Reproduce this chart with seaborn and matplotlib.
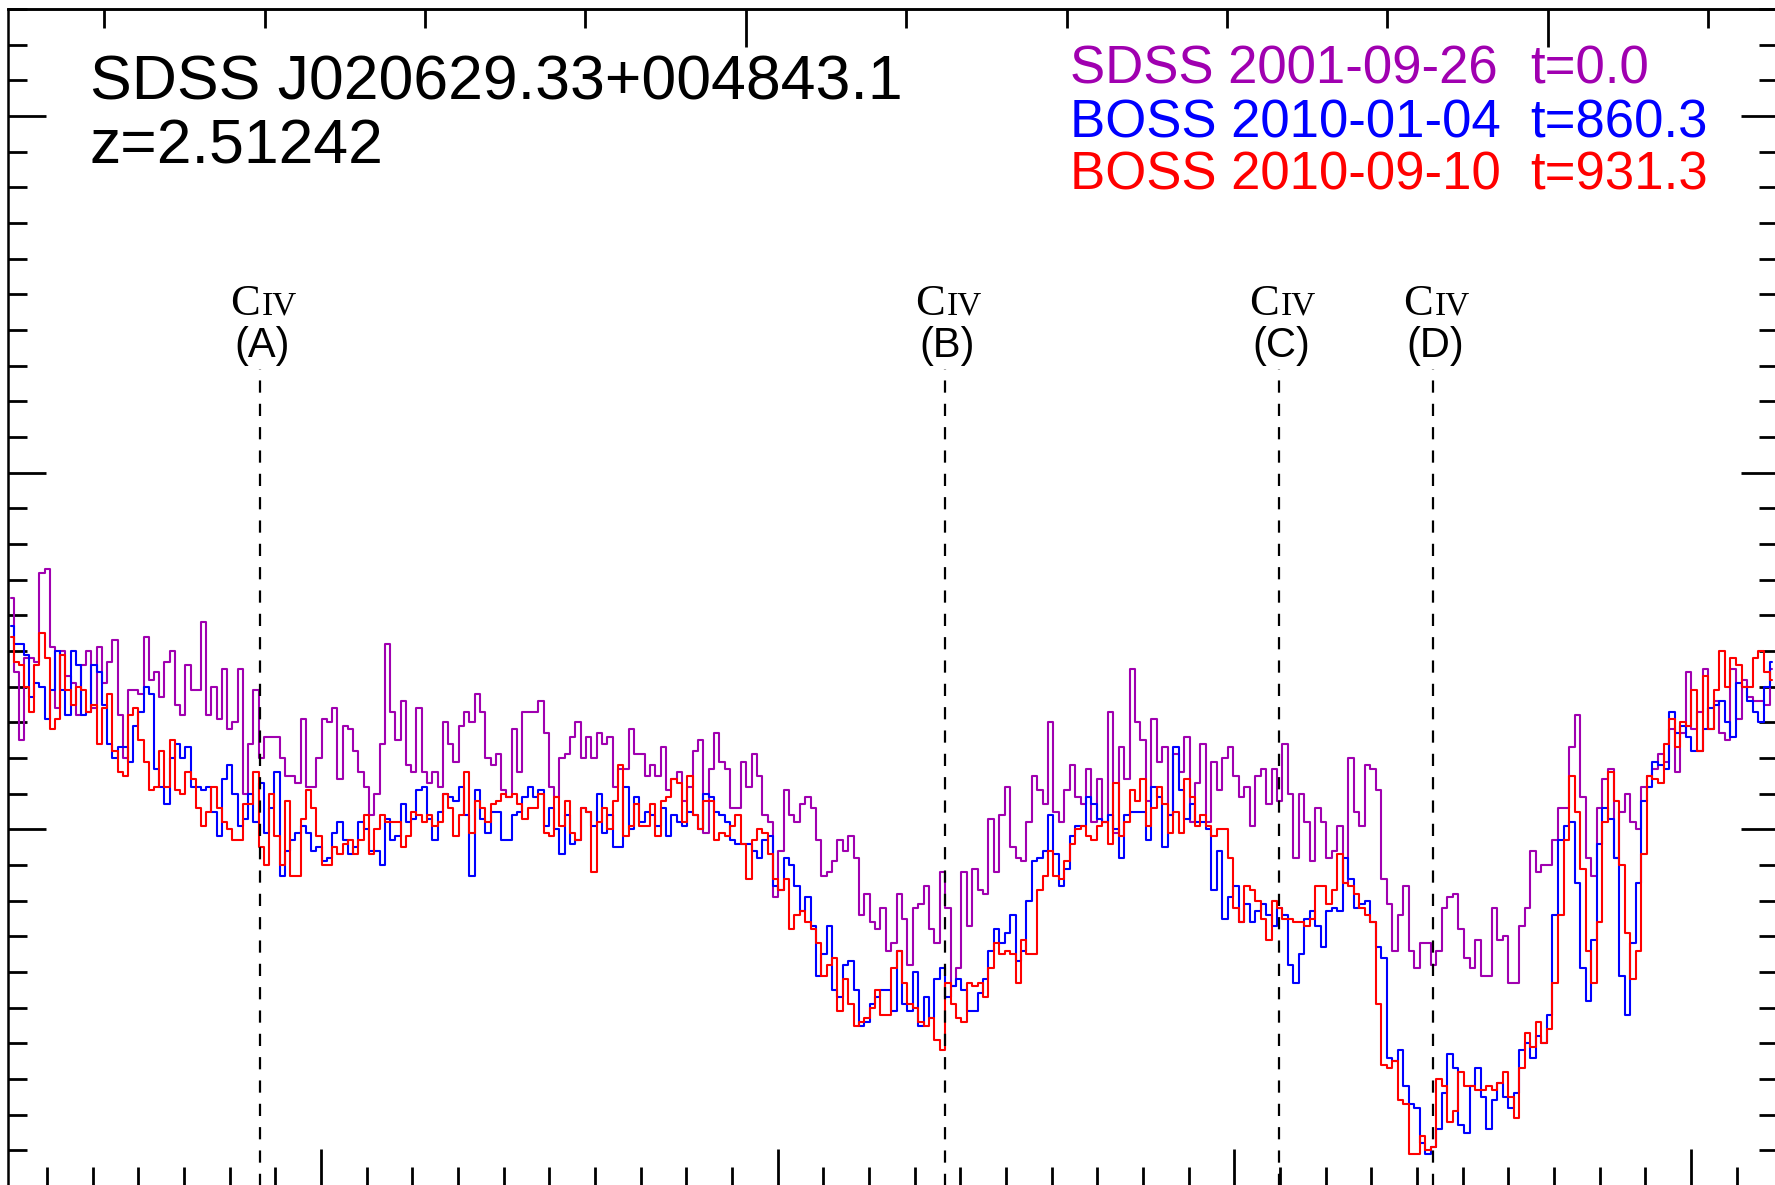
import numpy as np
import matplotlib
matplotlib.use("Agg")
import matplotlib.pyplot as plt
import seaborn as sns
from matplotlib.ticker import MultipleLocator, NullFormatter

sns.set_style("ticks")
plt.rcParams["font.family"] = ["Liberation Sans", "DejaVu Sans"]
plt.rcParams.update({"text.color": "black", "axes.edgecolor": "black",
                     "xtick.color": "black", "ytick.color": "black"})

# quasar
z = 2.51242
loglam0 = 3.692982  # log10 of the first pixel edge (observed A), 1e-4 dex pixels

# flux per pixel
sdss_flux = [
    1.65, 1.44, 1.25, 1.48, 1.48, 1.47, 1.72, 1.73, 1.51, 1.34, 1.50, 1.43, 1.41, 1.32, 1.46, 1.50, 1.34, 1.51, 1.41, 1.47,
    1.53, 1.32, 1.20, 1.39, 1.39, 1.38, 1.54, 1.42, 1.44, 1.37, 1.47, 1.50, 1.35, 1.32, 1.46, 1.39, 1.39, 1.58, 1.32, 1.40,
    1.31, 1.45, 1.28, 1.30, 1.45, 1.10, 1.24, 1.39, 1.20, 1.26, 1.26, 1.26, 1.20, 1.15, 1.15, 1.13,
    1.31, 1.12, 1.12, 1.20, 1.31, 1.30, 1.34, 1.14, 1.29, 1.28, 1.22, 1.16, 1.12, 1.04, 1.10, 1.24, 1.52, 1.33, 1.25, 1.36,
    1.18, 1.16, 1.34, 1.16, 1.13, 1.16, 1.12, 1.30, 1.24, 1.19, 1.29, 1.33, 1.30, 1.38, 1.33, 1.20, 1.18, 1.21, 1.11, 1.09,
    1.28, 1.16, 1.33, 1.33, 1.33, 1.36, 1.27, 1.12, 1.09, 1.20, 1.21, 1.26, 1.30, 1.20, 1.26,
    1.20, 1.27, 1.24, 1.26, 1.12, 1.17, 1.17, 1.28, 1.21, 1.21, 1.15, 1.18, 1.15, 1.23, 1.11, 1.14, 1.16, 1.08, 1.12, 1.22,
    1.25, 0.99, 1.17, 1.27, 1.19, 1.17, 1.06, 1.06, 1.19, 1.12, 1.21, 1.15, 1.04, 1.02, 0.81, 0.94, 1.11, 1.04, 1.02, 1.07,
    1.09, 1.06, 0.97, 0.87, 0.88, 0.91, 0.97, 0.94, 0.98, 0.92, 0.76, 0.82, 0.74, 0.72, 0.78,
    0.66, 0.68, 0.82, 0.75, 0.62, 0.78, 0.79, 0.84, 0.72, 0.68, 0.88, 0.78, 0.56, 0.61, 0.88, 0.73, 0.89, 0.83, 0.82, 1.03,
    0.88, 1.04, 1.12, 0.95, 0.92, 0.91, 1.02, 1.15, 1.11, 1.07, 1.30, 1.05, 1.02, 1.11, 1.18, 1.09, 1.07, 1.17, 1.02, 1.14,
    1.02, 1.33, 0.99, 1.23, 1.14, 1.45, 1.30, 1.25, 1.08, 1.31, 1.19, 1.23, 1.04, 1.21, 1.16,
    1.26, 1.02, 1.13, 1.24, 1.02, 1.19, 1.11, 1.20, 1.23, 1.15, 1.09, 1.12, 1.01, 1.15, 1.17, 1.07, 1.17, 1.08, 1.24, 1.10,
    0.92, 1.10, 1.02, 0.91, 1.06, 1.02, 0.92, 0.94, 1.01, 0.85, 1.20, 1.05, 1.01, 1.18, 1.17, 1.11, 0.86, 0.79, 0.66, 0.76,
    0.84, 0.66, 0.61, 0.68, 0.68, 0.62, 0.66, 0.78, 0.81, 0.82, 0.72, 0.64, 0.61,
    0.69, 0.59, 0.59, 0.78, 0.69, 0.70, 0.57, 0.57, 0.73, 0.78, 0.94, 0.88, 0.90, 0.90, 0.97, 1.06, 1.06, 1.23, 1.32, 1.09,
    0.92, 0.87, 1.06, 1.14, 1.17, 0.92, 1.05, 1.10, 1.02, 1.00, 1.12, 1.15, 1.17, 1.21, 1.19, 1.28, 1.16, 1.27, 1.44, 1.28,
    1.33, 1.45, 1.28, 1.36, 1.27, 1.25, 1.45, 1.31, 1.42, 1.37, 1.36, 1.36, 1.35, 1.45,
]

boss1_flux = [
    1.57, 1.52, 1.52, 1.49, 1.37, 1.41, 1.40, 1.31, 1.39, 1.50, 1.39, 1.32, 1.50, 1.46, 1.32, 1.33, 1.46, 1.44, 1.35, 1.24,
    1.20, 1.23, 1.23, 1.19, 1.29, 1.33, 1.40, 1.38, 1.17, 1.12, 1.07, 1.20, 1.24, 1.20, 1.23, 1.12, 1.12, 1.11, 1.12, 1.05,
    0.98, 1.14, 1.18, 1.10, 1.01, 1.03, 1.10, 1.02, 1.13, 0.99, 1.06, 1.16, 0.87, 0.94, 0.97, 0.99,
    1.01, 0.99, 0.94, 0.95, 0.91, 0.92, 0.99, 1.02, 0.97, 0.93, 0.95, 1.02, 1.00, 0.94, 0.94, 0.90, 1.03, 0.97, 0.98, 1.07,
    1.02, 1.03, 1.11, 1.12, 1.03, 0.97, 1.05, 1.10, 1.09, 1.08, 1.12, 1.04, 0.87, 1.11, 1.03, 0.99, 1.05, 1.05, 0.97, 0.97,
    1.04, 1.05, 1.09, 1.12, 1.09, 1.11, 1.01, 1.06, 1.00, 0.93, 1.04, 0.96, 0.97, 1.06, 1.05,
    1.01, 1.10, 0.99, 1.04, 0.95, 0.95, 1.12, 1.00, 1.09, 1.02, 1.05, 1.04, 1.01, 1.06, 0.98, 1.04, 1.02, 1.01, 1.05, 1.04,
    1.00, 1.10, 1.09, 1.05, 1.04, 1.02, 0.97, 0.96, 0.96, 0.96, 0.94, 0.92, 0.97, 0.98, 0.84, 0.83, 0.92, 0.90, 0.84, 0.77,
    0.81, 0.73, 0.59, 0.65, 0.73, 0.55, 0.53, 0.62, 0.63, 0.55, 0.45, 0.46, 0.51, 0.53, 0.55,
    0.55, 0.49, 0.66, 0.51, 0.49, 0.60, 0.45, 0.53, 0.47, 0.58, 0.61, 0.53, 0.56, 0.58, 0.55, 0.49, 0.49, 0.54, 0.58, 0.66,
    0.72, 0.68, 0.71, 0.76, 0.63, 0.66, 0.80, 0.91, 0.92, 0.94, 1.04, 0.93, 0.84, 0.89, 0.98, 1.01, 1.01, 1.09, 1.07, 1.03,
    1.02, 1.04, 1.00, 0.92, 1.04, 1.05, 1.05, 1.05, 0.97, 1.12, 1.09, 0.95, 1.04, 1.23, 1.11,
    1.03, 1.07, 1.02, 1.02, 1.00, 0.83, 0.94, 0.75, 0.81, 0.84, 0.74, 0.79, 0.74, 0.77, 0.79, 0.76, 0.73, 0.78, 0.76, 0.62,
    0.57, 0.65, 0.75, 0.77, 0.73, 0.67, 0.77, 0.78, 0.77, 0.92, 0.86, 0.78, 0.79, 0.80, 0.74, 0.67, 0.64, 0.36, 0.35, 0.38,
    0.28, 0.23, 0.22, 0.12, 0.09, 0.11, 0.16, 0.26, 0.37, 0.33, 0.17, 0.15, 0.28,
    0.33, 0.25, 0.16, 0.24, 0.29, 0.25, 0.22, 0.26, 0.38, 0.40, 0.36, 0.42, 0.40, 0.48, 0.76, 0.97, 1.01, 1.02, 0.85, 0.61,
    0.52, 0.69, 0.96, 1.06, 1.03, 0.92, 0.59, 0.48, 0.68, 0.85, 1.08, 1.12, 1.19, 1.18, 1.17, 1.33, 1.27, 1.29, 1.26, 1.22,
    1.22, 1.28, 1.34, 1.35, 1.36, 1.30, 1.26, 1.41, 1.40, 1.36, 1.33, 1.30, 1.40, 1.47,
]

boss2_flux = [
    1.54, 1.47, 1.46, 1.40, 1.33, 1.46, 1.55, 1.48, 1.28, 1.31, 1.49, 1.39, 1.35, 1.40, 1.39, 1.33, 1.35, 1.24, 1.34, 1.38,
    1.22, 1.16, 1.15, 1.32, 1.34, 1.25, 1.19, 1.11, 1.12, 1.22, 1.12, 1.25, 1.11, 1.10, 1.16, 1.14, 1.06, 1.01, 1.05, 1.12,
    1.06, 1.02, 1.00, 0.97, 0.97, 1.07, 1.07, 1.16, 0.95, 0.90, 1.10, 0.98, 0.90, 1.08, 0.87, 0.87,
    1.03, 1.11, 1.06, 0.98, 0.90, 0.90, 0.95, 0.93, 0.96, 0.97, 0.93, 0.97, 1.04, 0.93, 1.00, 1.04, 1.02, 1.02, 1.02, 0.95,
    0.98, 1.05, 1.04, 1.02, 1.04, 1.01, 1.02, 1.10, 1.06, 0.98, 1.04, 1.16, 0.99, 1.08, 1.06, 1.02, 1.07, 1.08, 1.10, 1.09,
    1.10, 1.07, 1.03, 1.06, 1.06, 1.10, 0.99, 0.98, 1.09, 1.01, 1.08, 0.99, 0.97, 1.06, 1.05,
    0.88, 1.02, 1.06, 1.00, 1.08, 1.18, 0.98, 1.01, 1.07, 1.01, 1.01, 1.07, 0.98, 1.08, 1.09, 1.14, 1.13, 1.02, 1.15, 1.04,
    1.00, 1.08, 1.08, 0.97, 0.99, 0.98, 1.01, 1.04, 0.96, 0.86, 0.97, 1.00, 0.99, 0.93, 0.86, 0.83, 0.86, 0.72, 0.76, 0.77,
    0.74, 0.72, 0.68, 0.59, 0.62, 0.64, 0.49, 0.58, 0.51, 0.45, 0.46, 0.47, 0.50, 0.55, 0.48,
    0.48, 0.61, 0.66, 0.57, 0.51, 0.50, 0.46, 0.45, 0.47, 0.41, 0.38, 0.57, 0.51, 0.47, 0.46, 0.57, 0.56, 0.57, 0.53, 0.61,
    0.68, 0.65, 0.66, 0.65, 0.57, 0.69, 0.65, 0.65, 0.83, 0.87, 0.94, 0.87, 0.86, 0.91, 0.96, 1.00, 1.01, 0.98, 0.97, 1.01,
    1.02, 0.96, 1.13, 0.98, 1.02, 1.11, 1.08, 1.14, 1.01, 1.06, 1.12, 1.07, 0.99, 1.05, 0.99,
    1.14, 1.09, 1.01, 1.04, 1.01, 0.98, 1.00, 1.00, 0.92, 0.78, 0.74, 0.84, 0.83, 0.80, 0.75, 0.69, 0.80, 0.78, 0.75, 0.75,
    0.74, 0.74, 0.73, 0.75, 0.84, 0.84, 0.79, 0.83, 0.93, 0.85, 0.84, 0.82, 0.78, 0.76, 0.74, 0.51, 0.34, 0.33, 0.35, 0.24,
    0.23, 0.09, 0.09, 0.14, 0.10, 0.11, 0.30, 0.28, 0.18, 0.21, 0.32, 0.28, 0.28,
    0.27, 0.27, 0.28, 0.27, 0.29, 0.32, 0.25, 0.19, 0.33, 0.43, 0.39, 0.46, 0.40, 0.44, 0.57, 0.76, 0.97, 1.15, 1.05, 0.89,
    0.66, 0.57, 0.74, 1.02, 1.16, 1.08, 0.90, 0.71, 0.58, 0.66, 0.93, 1.15, 1.14, 1.13, 1.24, 1.31, 1.23, 1.30, 1.29, 1.39,
    1.22, 1.43, 1.28, 1.39, 1.50, 1.40, 1.48, 1.46, 1.40, 1.40, 1.48, 1.50, 1.44, 1.42,
]

spectra = [
    ("SDSS", "2001-09-26", "t=0.0", sdss_flux, "#a000b0"),
    ("BOSS", "2010-01-04", "t=860.3", boss1_flux, "#0000ff"),
    ("BOSS", "2010-09-10", "t=931.3", boss2_flux, "#ff0000"),
]

# CIV absorption systems (observed wavelength)
civ_lam = [4986.6, 5136.6, 5209.7, 5243.5]
civ_tag = ["(A)", "(B)", "(C)", "(D)"]

npix = len(sdss_flux)
lam = 10 ** (loglam0 + 1e-4 * (np.arange(npix) + 0.5))

fig = plt.figure(figsize=(17.75, 11.85), dpi=100)
ax = fig.add_axes([8 / 1775, -1 / 1185, 1770 / 1775, 1177 / 1185])

for survey, date, t, flux, col in spectra:
    sns.lineplot(x=lam, y=flux, ax=ax, color=col, linewidth=1.5,
                 drawstyle="steps-mid", estimator=None, sort=False)

for xl, tag in zip(civ_lam, civ_tag):
    ax.plot([xl, xl], [0, 2.29], color="black", lw=1.6, ls=(0, (5.5, 5)))
    ax.text(xl, 2.443, "C", ha="right", va="baseline", fontsize=32,
            family=["Liberation Serif"])
    ax.text(xl + 0.4, 2.443, "IV", ha="left", va="baseline", fontsize=24,
            family=["Liberation Serif"])
    ax.text(xl + 0.5, 2.323, tag, ha="center", va="baseline", fontsize=30)

ax.set_xlim(4931.46, 5319.03)
ax.set_ylim(0, 3.3)

ax.xaxis.set_major_locator(MultipleLocator(100))
ax.xaxis.set_minor_locator(MultipleLocator(10))
ax.yaxis.set_major_locator(MultipleLocator(1))
ax.yaxis.set_minor_locator(MultipleLocator(0.1))
ax.xaxis.set_major_formatter(NullFormatter())
ax.yaxis.set_major_formatter(NullFormatter())
ax.tick_params(which="both", direction="in", left=True, right=True, bottom=True, top=False,
               width=2, color="black")
ax.tick_params(which="major", length=27)
ax.tick_params(which="minor", length=14)
ax.set_xlabel("")
ax.set_ylabel("")
for s in ax.spines.values():
    s.set_linewidth(1.8)
    s.set_color("black")
    s.set_visible(True)

# rest-frame wavelength on top
top = ax.secondary_xaxis("top", functions=(lambda x: x / (1 + z), lambda x: x * (1 + z)))
top.xaxis.set_major_locator(MultipleLocator(50))
top.xaxis.set_minor_locator(MultipleLocator(10))
top.xaxis.set_major_formatter(NullFormatter())
top.tick_params(which="both", direction="in", width=2, color="black")
top.tick_params(which="major", length=27)
top.tick_params(which="minor", length=14)
top.spines["top"].set_linewidth(1.8)
top.spines["top"].set_color("black")

fig.text(90 / 1775, 1 - 99 / 1185, "SDSS J020629.33+004843.1", fontsize=45, va="baseline", color="black")
fig.text(90 / 1775, 1 - 164 / 1185, "z=2.51242", fontsize=45, va="baseline", color="black")

for i, (survey, date, t, flux, col) in enumerate(spectra):
    yb = 1 - (84 + 53 * i) / 1185
    fig.text(1070 / 1775, yb, survey + " " + date, color=col, fontsize=38, va="baseline")
    fig.text(1530 / 1775, yb, t, color=col, fontsize=38, va="baseline")

fig.savefig("out.png", dpi=100)
